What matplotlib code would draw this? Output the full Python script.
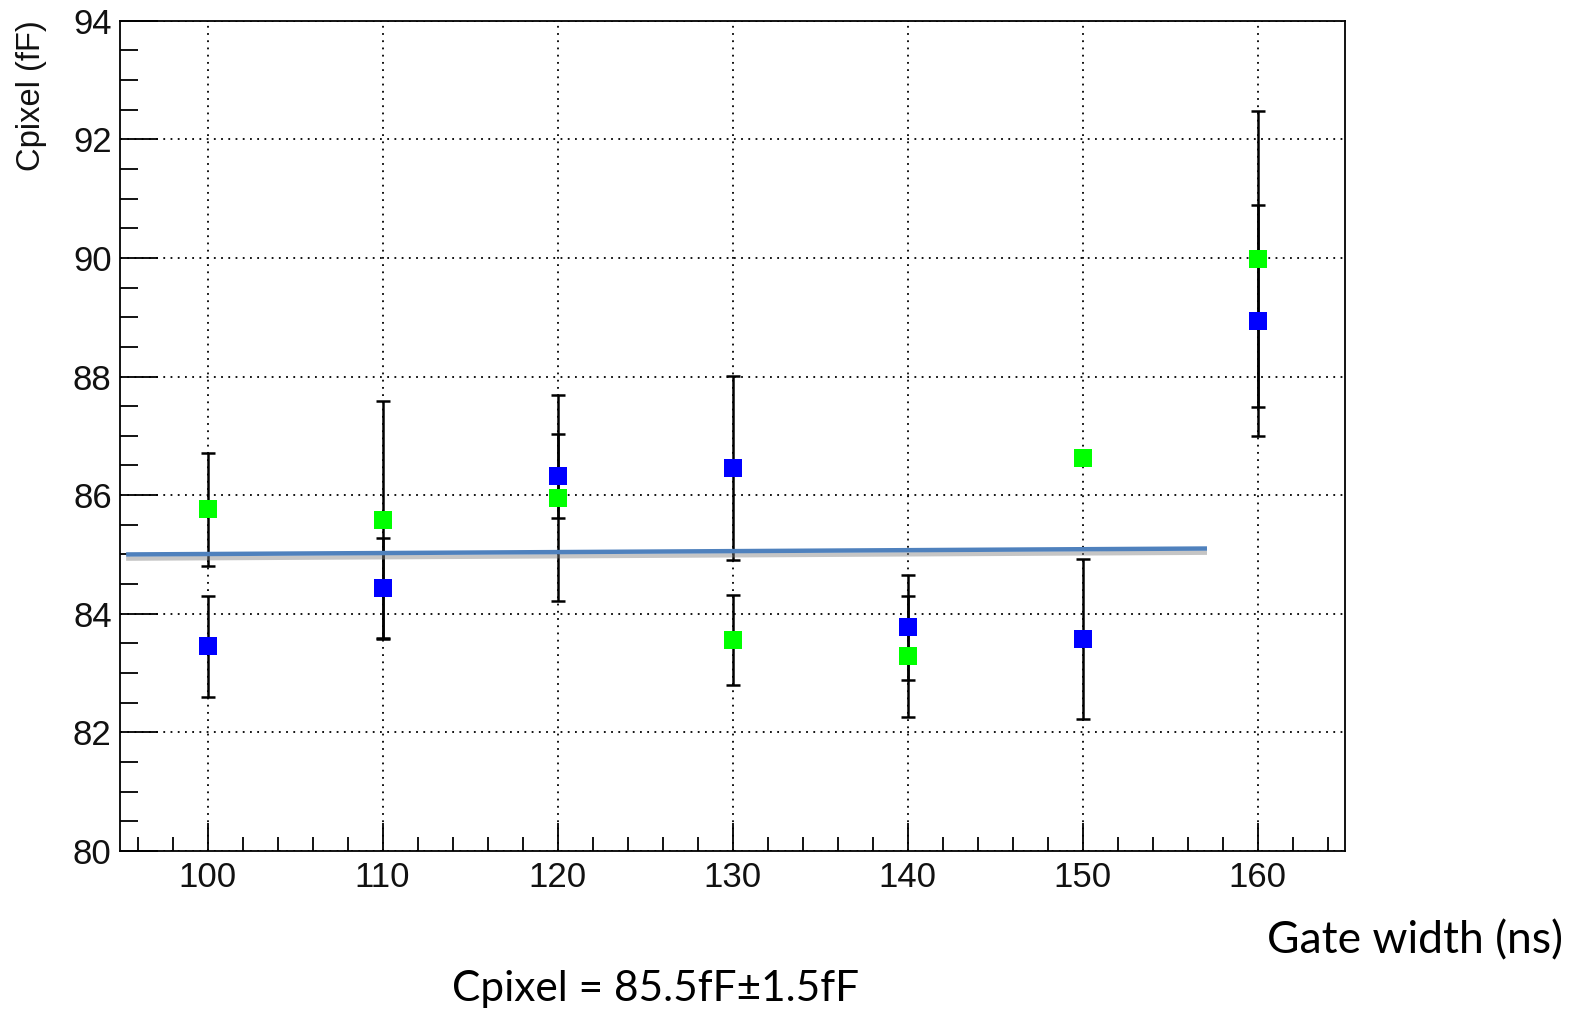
import numpy as np
import matplotlib
matplotlib.use("Agg")
import matplotlib.pyplot as plt
import matplotlib.patheffects as pe
from matplotlib.ticker import MultipleLocator

# data
gate = [100, 110, 120, 130, 140, 150, 160]
blue_c = [83.45, 84.43, 86.32, 86.46, 83.77, 83.58, 88.94]
blue_err = [0.85, 0.84, 0.71, 1.55, 0.88, 1.35, 1.95]
green_c = [85.76, 85.58, 85.95, 83.56, 83.28, 86.63, 89.98]
green_err = [0.95, 2.0, 1.74, 0.76, 1.02, 0.0, 2.5]
fit_x = [95.35, 157.1]
fit_y = [85.0, 85.1]

fig = plt.figure(figsize=(15.81, 10.11), dpi=100)
ax = fig.add_axes([0.0759, 0.1583, 0.775, 0.8212])

ax.set_xlim(95, 165)
ax.set_ylim(80, 94)
ax.grid(True, which='major', color='black', linestyle=(0, (1, 3)), linewidth=1.3)
ax.set_axisbelow(True)

# error bars (no bar drawn where the error is zero)
ge = np.array(green_err)
gm = ge > 0
ax.errorbar(np.array(gate)[gm], np.array(green_c)[gm], yerr=ge[gm], fmt='none',
            ecolor='black', elinewidth=1.8, capsize=5, capthick=1.8, zorder=3)
ax.errorbar(gate, blue_c, yerr=blue_err, fmt='none',
            ecolor='black', elinewidth=1.8, capsize=5, capthick=1.8, zorder=3)

ax.plot(gate, blue_c, 's', color='#0000ff', markersize=13, markeredgewidth=0, zorder=4)
ax.plot(gate, green_c, 's', color='#00ff00', markersize=13, markeredgewidth=0, zorder=4)

# hand drawn average line with shadow
ax.plot(fit_x, fit_y, color='#4f81bd', linewidth=3.2, solid_capstyle='butt', zorder=5,
        path_effects=[pe.SimpleLineShadow(offset=(0, -3), shadow_color='gray', alpha=0.45),
                      pe.Normal()])

ax.xaxis.set_major_locator(MultipleLocator(10))
ax.xaxis.set_minor_locator(MultipleLocator(2))
ax.yaxis.set_major_locator(MultipleLocator(2))
ax.yaxis.set_minor_locator(MultipleLocator(0.5))

ax.tick_params(axis='x', which='major', direction='in', length=20, width=1.3, pad=7,
               labelsize=25, top=False)
ax.tick_params(axis='x', which='minor', direction='in', length=10, width=1.3, top=False)
ax.tick_params(axis='y', which='major', direction='in', length=27, width=1.3, pad=6,
               labelsize=25, right=False)
ax.tick_params(axis='y', which='minor', direction='in', length=13, width=1.3, right=False)
for lab in ax.get_xticklabels() + ax.get_yticklabels():
    lab.set_family('Liberation Sans')
    lab.set_color('#111111')
for s in ax.spines.values():
    s.set_linewidth(1.3)

fig.text(32 / 1581, 1 - 20 / 1011, 'Cpixel (fF)', rotation=90, ha='center', va='top',
         fontsize=23.5, family='Liberation Sans', color='#111111')
fig.text(1267 / 1581, 1 - 953 / 1011, 'Gate width (ns)', ha='left', va='baseline',
         fontsize=32, family='Lato')
fig.text(452 / 1581, 1 - 1001 / 1011, 'Cpixel = 85.5fF±1.5fF', ha='left', va='baseline',
         fontsize=30.5, family='Lato')

fig.savefig('out.png', dpi=100)
